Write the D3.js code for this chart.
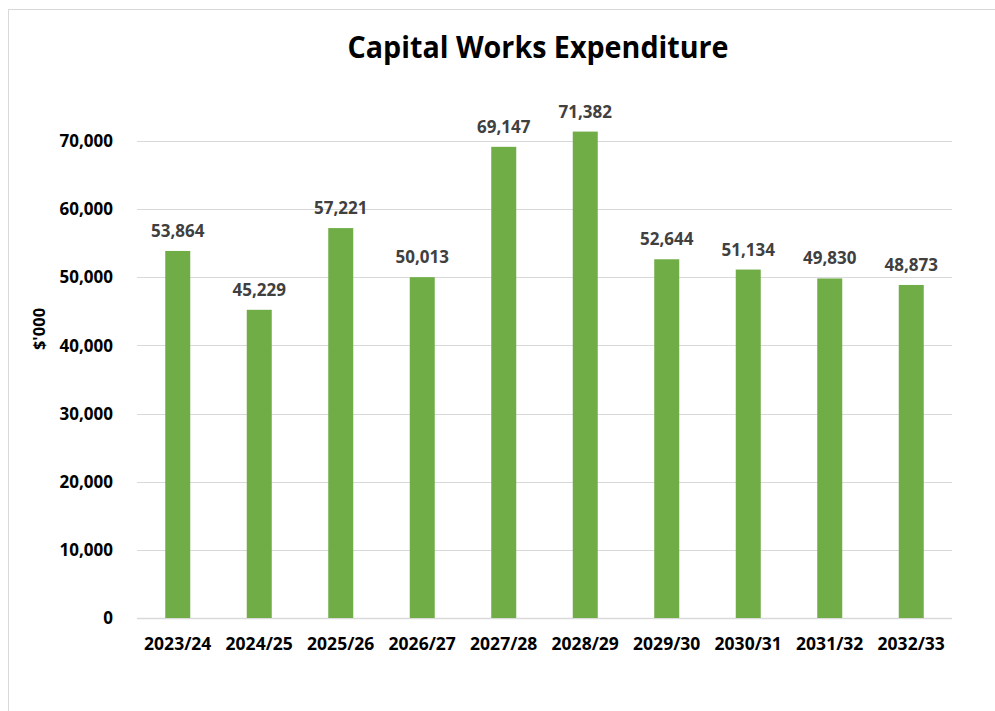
<!DOCTYPE html>
<html>
<head>
<meta charset="utf-8">
<script src="https://cdn.jsdelivr.net/npm/d3@7"></script>
<style>
  html, body { margin: 0; padding: 0; background: #fff; }
  svg { display: block; font-family: "Open Sans", "DejaVu Sans", sans-serif; }
</style>
</head>
<body>
<svg id="chart" width="995" height="711"></svg>
<script>
const categories = ["2023/24","2024/25","2025/26","2026/27","2027/28","2028/29","2029/30","2030/31","2031/32","2032/33"];
const values = [53864, 45229, 57221, 50013, 69147, 71382, 52644, 51134, 49830, 48873];
const yTicks = [0, 10000, 20000, 30000, 40000, 50000, 60000, 70000];
const title = "Capital Works Expenditure";
const yTitle = "$'000";

const svg = d3.select("#chart");
const W = 995, H = 711;
const plot = { left: 137, right: 952, top: 73, bottom: 618 };

// chart border
svg.append("rect")
  .attr("x", 8.5).attr("y", 9.5)
  .attr("width", W + 10).attr("height", H + 10)
  .attr("fill", "#fff").attr("stroke", "#d9d9d9").attr("stroke-width", 1);

const x = d3.scaleBand().domain(categories).range([plot.left, plot.right]).padding(0);
const y = d3.scaleLinear().domain([0, 80000]).range([plot.bottom, plot.bottom - 80000 * (477 / 70000)]);

// gridlines
svg.append("g").selectAll("line").data(yTicks).join("line")
  .attr("x1", plot.left).attr("x2", plot.right)
  .attr("y1", d => Math.round(y(d)) + 0.5).attr("y2", d => Math.round(y(d)) + 0.5)
  .attr("stroke", "#d9d9d9").attr("stroke-width", d => d === 0 ? 1.5 : 1);

// y tick labels
const fmt = d3.format(",");
svg.append("g").selectAll("text").data(yTicks).join("text")
  .attr("x", 113).attr("y", d => y(d))
  .attr("dy", "0.36em")
  .attr("text-anchor", "end")
  .attr("font-size", 17).attr("font-weight", 700).attr("fill", "#000")
  .text(d => fmt(d));

// bars
const barW = 25;
svg.append("g").selectAll("rect").data(values).join("rect")
  .attr("x", (d, i) => x(categories[i]) + x.bandwidth() / 2 - barW / 2)
  .attr("width", barW)
  .attr("y", d => y(d))
  .attr("height", d => y(0) - y(d))
  .attr("fill", "#70ad47");

// data labels
svg.append("g").selectAll("text").data(values).join("text")
  .attr("x", (d, i) => x(categories[i]) + x.bandwidth() / 2)
  .attr("y", d => y(d) - 14)
  .attr("text-anchor", "middle")
  .attr("font-size", 17).attr("font-weight", 700).attr("fill", "#404040")
  .text(d => fmt(d));

// category labels
svg.append("g").selectAll("text").data(categories).join("text")
  .attr("x", d => x(d) + x.bandwidth() / 2)
  .attr("y", 650)
  .attr("text-anchor", "middle")
  .attr("font-size", 17.5).attr("font-weight", 700).attr("fill", "#000")
  .text(d => d);

// title
svg.append("text")
  .attr("x", 538).attr("y", 58)
  .attr("text-anchor", "middle")
  .attr("font-size", 30.5).attr("font-weight", 700).attr("fill", "#000")
  .attr("textLength", 381).attr("lengthAdjust", "spacingAndGlyphs")
  .text(title);

// y axis title
svg.append("text")
  .attr("transform", "translate(45,329) rotate(-90)")
  .attr("text-anchor", "middle")
  .attr("font-size", 16.5).attr("font-weight", 700).attr("fill", "#000")
  .text(yTitle);
</script>
</body>
</html>
